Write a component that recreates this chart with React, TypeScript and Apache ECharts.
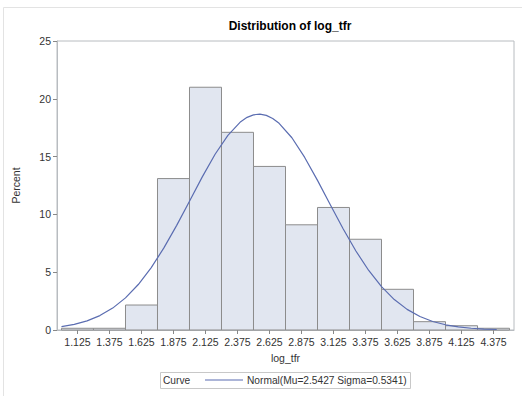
import React, { useEffect, useRef } from "react";
import * as echarts from "echarts";

const binCenters = [1.125, 1.375, 1.625, 1.875, 2.125, 2.375, 2.625, 2.875, 3.125, 3.375, 3.625, 3.875, 4.125, 4.375];
const binPercents = [0.15, 0.15, 2.16, 13.1, 21.0, 17.1, 14.15, 9.1, 10.6, 7.85, 3.52, 0.72, 0.37, 0.15];
const binWidth = 0.25;

const curveX = [1.0, 1.1, 1.2, 1.3, 1.4, 1.5, 1.6, 1.7, 1.8, 1.9, 2.0, 2.1, 2.2, 2.3, 2.4, 2.45, 2.5, 2.55, 2.6, 2.65, 2.7, 2.8, 2.9, 3.0, 3.1, 3.2, 3.3, 3.4, 3.5, 3.6, 3.7, 3.8, 3.9, 4.0, 4.1, 4.2, 4.3, 4.4];
const curveY = [0.288, 0.486, 0.792, 1.246, 1.894, 2.777, 3.933, 5.378, 7.101, 9.053, 11.144, 13.245, 15.2, 16.843, 18.019, 18.395, 18.614, 18.672, 18.567, 18.301, 17.881, 16.629, 14.929, 12.943, 10.835, 8.757, 6.834, 5.15, 3.746, 2.632, 1.786, 1.169, 0.739, 0.451, 0.266, 0.151, 0.083, 0.044];

const xTicks = [1.125, 1.375, 1.625, 1.875, 2.125, 2.375, 2.625, 2.875, 3.125, 3.375, 3.625, 3.875, 4.125, 4.375];

const curveName = "Normal(Mu=2.5427 Sigma=0.5341)";
const FONT = "Liberation Sans, Arial, sans-serif";

export default function App() {
  const ref = useRef<HTMLDivElement>(null);
  useEffect(() => {
    if (!ref.current) return;
    const chart = echarts.init(ref.current, null, { renderer: "svg" });
    const barData = binCenters.map((c, i) => [c, binPercents[i]]);
    const lineData = curveX.map((x, i) => [x, curveY[i]]);
    chart.setOption({
      animation: false,
      backgroundColor: "#ffffff",
      textStyle: { fontFamily: FONT },
      title: {
        text: "Distribution of log_tfr",
        left: 285,
        textAlign: "center",
        top: 15,
        textStyle: { fontFamily: FONT, fontSize: 12, fontWeight: "bold", color: "#000" },
      },
      grid: {
        left: 57,
        right: 8,
        top: 41,
        bottom: 66,
        show: true,
        borderColor: "#b8bcc0",
        borderWidth: 1,
        backgroundColor: "transparent",
      },
      xAxis: {
        type: "value",
        min: 0.965,
        max: 4.535,
        name: "log_tfr",
        nameLocation: "middle",
        nameGap: 22,
        nameTextStyle: { fontFamily: FONT, fontSize: 10.5, color: "#333" },
        axisLine: { show: true, lineStyle: { color: "#b8bcc0" } },
        axisTick: { show: true, length: 4, lineStyle: { color: "#888" }, customValues: xTicks },
        axisLabel: {
          fontFamily: FONT,
          fontSize: 10.5,
          color: "#333",
          margin: 6,
          customValues: xTicks,
          formatter: (v: number) => v.toFixed(3),
        },
        splitLine: { show: false },
      },
      yAxis: {
        type: "value",
        min: 0,
        max: 25,
        interval: 5,
        name: "Percent",
        nameLocation: "middle",
        nameGap: 36,
        nameTextStyle: { fontFamily: FONT, fontSize: 10.5, color: "#333" },
        axisLine: { show: true, lineStyle: { color: "#b8bcc0" } },
        axisTick: { show: true, length: 4, lineStyle: { color: "#888" } },
        axisLabel: { fontFamily: FONT, fontSize: 10.5, color: "#333", margin: 6 },
        splitLine: { show: false },
      },
      legend: {
        left: 205,
        top: 375,
        itemWidth: 38,
        itemHeight: 1,
        itemGap: 4,
        padding: 0,
        selectedMode: false,
        textStyle: { fontFamily: FONT, fontSize: 10.2, color: "#333", padding: [0, 0, 0, -1] },
        data: [{ name: curveName, icon: "rect" }],
      },
      graphic: [
        {
          type: "rect",
          shape: { x: 3.5, y: 7.5, width: 530, height: 400 },
          style: { fill: "none", stroke: "#e3e3e3", lineWidth: 1 },
          silent: true,
          z: -10,
        },
        {
          type: "rect",
          shape: { x: 160.5, y: 372.5, width: 250, height: 16 },
          style: { fill: "none", stroke: "#c8c8c8", lineWidth: 1 },
          silent: true,
        },
        {
          type: "text",
          x: 163,
          y: 375,
          style: { text: "Curve", fontFamily: FONT, fontSize: 10.2, fill: "#333" },
          silent: true,
        },
      ],
      series: [
        {
          type: "custom",
          name: "Histogram",
          data: barData,
          encode: { x: 0, y: 1 },
          renderItem: (params: any, api: any) => {
            const c = api.value(0);
            const v = api.value(1);
            const p0 = api.coord([c - binWidth / 2, v]);
            const p1 = api.coord([c + binWidth / 2, 0]);
            return {
              type: "rect",
              shape: { x: p0[0], y: p0[1], width: p1[0] - p0[0], height: p1[1] - p0[1] },
              style: { fill: "#e1e6f0", stroke: "#8c8c8c", lineWidth: 1 },
            };
          },
          z: 2,
        },
        {
          type: "line",
          name: curveName,
          data: lineData,
          smooth: false,
          symbol: "none",
          lineStyle: { color: "#5b6db1", width: 1.2 },
          itemStyle: { color: "#5b6db1" },
          z: 3,
        },
      ],
    });
    return () => chart.dispose();
  }, []);
  return <div ref={ref} style={{ position: "fixed", left: 0, top: 0, width: 522, height: 396 }} />;
}
